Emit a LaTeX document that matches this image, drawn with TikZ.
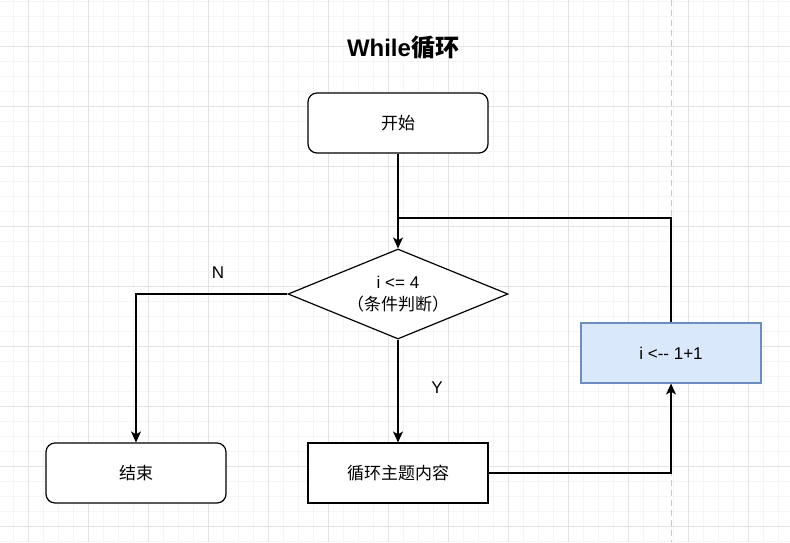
\documentclass[tikz,border=0pt]{standalone}
\usepackage{fontspec}
\setmainfont{Liberation Sans}
\newfontfamily\cjk{Noto Sans CJK SC}
\usetikzlibrary{shapes.geometric,arrows.meta}
\definecolor{gridminor}{HTML}{F5F5F5}
\definecolor{gridmajor}{HTML}{E3E3E3}
\definecolor{pageline}{HTML}{C8C8C8}
\definecolor{incrfill}{HTML}{DAE8FC}
\definecolor{incrline}{HTML}{6C8EBF}
\newcommand{\bodyfont}{\fontsize{17}{22}\selectfont}
\tikzset{
  stepbox/.style={draw=black, fill=white, line width=1.2pt, minimum width=180pt, minimum height=60pt, font=\bodyfont},
  termbox/.style={stepbox, rounded corners=9pt},
  decide/.style={diamond, draw=black, fill=white, line width=1.2pt, minimum width=220pt, minimum height=90pt, aspect=2.44, inner sep=0pt, align=center, font=\bodyfont},
  flow/.style={line width=1.2pt, -{Stealth[length=11pt,width=10pt,inset=3pt]}},
  plain/.style={line width=1.2pt}
}

\begin{document}
\begin{tikzpicture}[x=1pt, y=-1pt]
        \useasboundingbox (0,0) rectangle (790,542);
        \fill[white] (0,0) rectangle (790,542);
        % grid
        \foreach \x in {13,28,...,790} \draw[gridminor, line width=0.8pt] (\x,0) -- (\x,542);
        \foreach \y in {1,16,...,542} \draw[gridminor, line width=0.8pt] (0,\y) -- (790,\y);
        \foreach \x in {28,88,...,790} \draw[gridmajor, line width=0.8pt] (\x,0) -- (\x,542);
        \foreach \y in {46,106,...,542} \draw[gridmajor, line width=0.8pt] (0,\y) -- (790,\y);
        % page break
        \draw[pageline, line width=1pt, dash pattern=on 6pt off 4pt] (671,0) -- (671,542);
        % title
        \node (title) at (403,48) {\fontsize{24}{28}\selectfont\bfseries While{\cjk 循环}};
        % nodes
        \node[termbox] (start) at (398,123) {\cjk 开始};
        \node[decide] (cond) at (398,294) {i <= 4\\{\cjk （条件判断）}};
        \node[stepbox, fill=incrfill, draw=incrline] (incr) at (671,353) {i <{-}{-} 1+1};
        \node[termbox] (stop) at (136,473) {\cjk 结束};
        \node[stepbox] (body) at (398,473) {\cjk 循环主题内容};
        \coordinate (join) at (398,218);
        % connectors
        \draw[flow] (start) -- (cond);
        \draw[flow] (cond.west) -| (stop.north);
        \node[font=\bodyfont] (nlabel) at (218,273) {N};
        \draw[flow] (cond) -- (body);
        \node[font=\bodyfont] (ylabel) at (437,388) {Y};
        \draw[flow] (body.east) -| (incr.south);
        \draw[plain] (incr.north) |- (join);
\end{tikzpicture}
\end{document}
